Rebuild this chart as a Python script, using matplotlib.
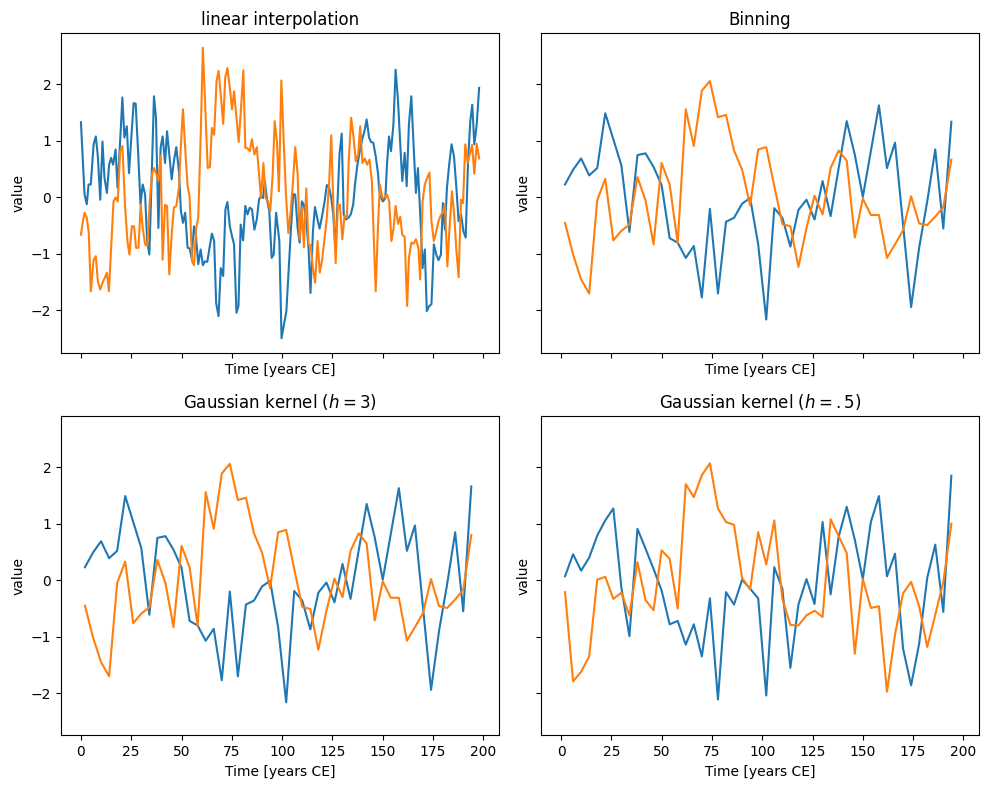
import numpy as np
import matplotlib.pyplot as plt

# linear interpolation: vertices (time, value)
lin_x_a = [0, 1.8, 2.9, 3.8, 4.9, 6.3, 7.4, 8.4, 9.6, 10.7, 11.7, 12.9, 14.0, 15.0, 16.0, 17.2,
           18.2, 19.4, 20.6, 21.6, 22.8, 23.9, 24.9, 26.2, 27.2, 28.4, 29.6, 30.7, 31.9, 32.9,
           34.0, 35.2, 36.3, 37.3, 38.5, 39.6, 40.6, 41.8, 42.8, 43.9, 45.1, 46.2, 47.4, 48.7,
           49.7, 50.7, 51.8, 53.0, 54.0, 55.0, 56.2, 57.1, 58.3, 59.5, 60.6, 61.6, 62.8, 63.9,
           65.1, 66.2, 67.2, 68.4, 69.5, 70.7, 71.8, 72.8, 74.0, 75.1, 76.1, 77.3, 78.3, 79.4,
           80.6, 81.7, 82.8, 83.9, 85.0, 86.2, 87.4, 88.5, 89.5, 90.5, 91.4, 92.5, 93.6, 94.8,
           95.8, 97.0, 98.6, 99.7, 100.9, 102.1, 103.2, 104.4, 105.5, 106.5, 107.7, 108.7,
           109.8, 110.8, 112.0, 113.1, 114.1, 115.3, 116.3, 117.4, 118.6, 119.7, 121.1, 122.2,
           123.4, 124.4, 125.4, 126.5, 127.5, 128.5, 129.6, 130.6, 131.8, 132.9, 134.1, 135.3,
           136.2, 137.4, 138.6, 139.7, 140.9, 142.0, 143.2, 144.2, 145.3, 146.5, 147.7, 148.2,
           149.1, 150.1, 151.3, 152.1, 153.1, 154.1, 155.3, 156.4, 157.6, 158.7, 159.7, 160.9,
           161.9, 163.0, 164.2, 165.3, 166.5, 167.5, 168.6, 169.8, 170.9, 171.9, 173.1, 174.2,
           175.4, 176.6, 177.7, 178.9, 179.9, 180.9, 181.9, 183.1, 184.2, 185.4, 186.6, 187.7,
           188.9, 190.1, 191.2, 192.4, 193.5, 194.5, 195.5, 196.7, 197.9]
lin_a = [1.33, 0.05, -0.12, 0.23, 0.23, 0.94, 1.08, 0.73, -0.04, 0.99, 0.35, 0.08, 0.58, 0.70,
         0.58, 0.85, 0.17, 0.94, 1.77, 1.06, 1.26, 0.43, 0.99, 1.67, 1.66, 0.82, -0.12, 0.23,
         0.05, -0.77, -1.01, 0.41, 1.79, 1.41, -0.54, 0.88, 1.08, 0.61, 1.17, 0.76, 0.32, 0.64,
         0.89, 0.46, -0.24, -0.45, -0.27, -0.89, -0.90, -1.07, -0.51, -0.66, -1.18, -0.92,
         -1.20, -1.13, -1.14, -0.89, -0.64, -0.77, -1.87, -2.10, -1.25, -1.39, -0.21, -0.08,
         -0.51, -0.69, -0.83, -2.04, -1.92, -0.48, -0.76, -0.15, -0.30, -0.18, -0.21, -0.57,
         -0.39, -0.04, 0.03, -0.01, 0.29, -0.04, -0.24, -1.07, -1.01, -0.27, -0.77, -2.49,
         -2.25, -2.01, -1.30, -0.54, 0.06, 0.05, -0.54, -0.80, -0.07, -0.13, -0.42, -0.89,
         -1.69, -0.60, -0.17, -0.36, -0.55, -0.36, -0.07, 0.22, 0.17, -0.01, -0.30, -0.95,
         -0.10, 0.76, 1.13, -0.30, -0.39, -0.36, -0.30, -0.13, 0.23, 0.58, 0.82, 1.02, 1.17,
         1.38, 1.06, 0.98, 0.97, 0.73, 0.41, 0.14, -0.01, -0.07, -0.01, 0.58, 1.08, 0.82, 1.29,
         2.26, 1.70, 0.94, 0.29, 0.79, 0.20, 1.29, 1.79, 0.94, 0.08, 0.52, -0.27, -1.25, -0.92,
         -2.01, -1.92, -1.89, -0.83, -1.01, -1.11, -1.01, -0.10, -0.57, 0.17, 0.61, 0.94, 0.73,
         0.17, -0.42, -0.30, -0.60, -0.71, 0.64, 1.35, 1.64, 0.94, 1.29, 1.94]

lin_x_b = [0, 1.0, 1.8, 2.9, 3.9, 4.9, 6.3, 7.4, 8.4, 9.6, 10.7, 11.9, 12.9, 13.9, 15.0, 16.2,
           17.2, 18.3, 19.5, 20.6, 21.9, 23.1, 24.1, 25.3, 26.4, 27.4, 28.6, 29.7, 30.7, 31.9,
           33.0, 34.2, 35.3, 36.3, 37.5, 38.5, 39.6, 40.6, 41.8, 42.8, 43.9, 45.1, 46.2, 47.4,
           48.7, 49.7, 50.7, 51.8, 53.0, 54.0, 55.2, 56.2, 57.3, 58.3, 59.5, 60.6, 61.8, 63.0,
           64.1, 65.1, 66.2, 67.4, 68.4, 69.5, 70.7, 71.7, 72.8, 74.0, 75.1, 76.1, 77.3, 78.4,
           79.6, 80.7, 81.7, 82.8, 83.9, 85.0, 86.2, 87.4, 88.5, 89.5, 90.7, 91.8, 93.0, 94.1,
           95.3, 96.3, 97.4, 98.4, 99.6, 100.7, 101.9, 103.1, 104.2, 105.4, 106.5, 107.7, 108.7,
           109.8, 110.8, 112.0, 113.1, 114.1, 115.3, 116.4, 117.6, 118.7, 119.9, 121.1, 122.2,
           123.4, 124.4, 125.4, 126.6, 127.7, 128.7, 129.9, 131.0, 132.2, 133.1, 134.3, 135.5,
           136.6, 137.8, 138.8, 139.9, 141.1, 142.2, 143.4, 144.6, 145.5, 146.5, 147.6, 148.6,
           149.8, 150.9, 152.1, 153.2, 154.3, 155.4, 156.4, 157.6, 158.7, 159.7, 160.9, 162.1,
           163.0, 164.2, 165.3, 166.5, 167.7, 168.6, 169.8, 170.9, 172.1, 173.2, 174.2, 175.4,
           176.6, 177.7, 178.9, 179.9, 180.9, 182.1, 183.2, 184.4, 185.5, 186.5, 187.7, 188.9,
           189.9, 191.0, 192.2, 193.4, 194.4, 195.5, 196.7, 197.9]
lin_b = [-0.66, -0.42, -0.27, -0.36, -0.63, -1.66, -1.10, -1.04, -1.48, -1.63, -1.51, -1.42,
         -1.33, -1.66, -0.89, -0.07, 0.00, -0.07, 0.82, 0.91, -0.13, -0.77, -1.01, -0.51, -0.51,
         -0.89, -0.89, -0.13, -0.54, -0.83, -0.86, -0.07, 0.41, 0.52, 0.41, 0.29, 0.73, -1.10,
         -0.13, -0.15, -1.36, -0.66, -0.18, -0.15, 0.17, 0.94, 1.56, 0.88, 0.20, 0.02, -1.13,
         -1.20, -0.54, -0.36, 1.06, 2.65, 1.59, 0.52, 0.54, 1.23, 1.11, 2.06, 2.24, 1.82, 1.30,
         2.12, 2.29, 1.94, 1.56, 1.88, 1.41, 0.98, 1.59, 2.25, 0.88, 0.87, 0.82, 1.03, 0.76,
         0.89, 0.41, -0.01, 0.61, -0.01, -0.07, -0.24, 0.41, 1.35, 0.99, 0.11, 2.07, 1.06, 0.05,
         -0.63, -0.27, 0.29, 0.89, 0.41, -0.74, -0.18, -0.88, 0.16, -0.84, -0.84, -1.25, -1.51,
         -0.77, -1.33, -1.10, -0.72, -0.36, 0.29, 1.10, -0.07, -1.16, -0.13, -0.13, -0.74,
         -0.33, -0.36, 0.64, 1.41, 1.06, 0.64, 0.76, 1.26, 0.61, 0.69, 0.58, 0.67, 0.29, -0.68,
         -1.66, -0.54, 0.23, -0.01, 0.00, 0.05, -0.07, -0.77, -0.54, -0.15, -0.47, -0.34, -0.66,
         -0.70, -1.92, -1.07, -0.80, -0.82, -0.74, -0.89, -1.45, -0.07, 0.23, 0.35, 0.44, -0.42,
         -0.77, -0.60, -0.42, -0.31, -0.27, -0.12, -1.22, -0.54, 0.11, -0.30, -0.89, -1.41,
         -0.04, -0.10, 0.94, 0.61, 0.79, 0.93, 0.42, 0.95, 0.69]

# binned series (bin centres every 4 years)
bin_x = np.arange(2, 195, 4)
bin_a = [0.23, 0.49, 0.69, 0.39, 0.52, 1.49, 1.03, 0.57, -0.61, 0.75, 0.78, 0.54, 0.22, -0.72,
         -0.80, -1.07, -0.86, -1.77, -0.20, -1.70, -0.43, -0.36, -0.11, -0.01, -0.83, -2.16,
         -0.19, -0.36, -0.87, -0.22, -0.04, -0.39, 0.29, -0.33, 0.52, 1.35, 0.76, 0.01, 0.82,
         1.63, 0.52, 0.97, -0.48, -1.94, -0.89, -0.07, 0.85, -0.55, 1.34]
bin_b = [-0.45, -1.01, -1.45, -1.70, -0.05, 0.33, -0.76, -0.59, -0.48, 0.36, -0.05, -0.83, 0.61,
         0.23, -0.81, 1.56, 0.91, 1.89, 2.06, 1.42, 1.46, 0.83, 0.49, -0.14, 0.85, 0.89, 0.20,
         -0.47, -0.51, -1.23, -0.54, 0.03, -0.30, 0.52, 0.83, 0.65, -0.71, -0.02, -0.31, -0.31,
         -1.07, -0.83, -0.58, 0.02, -0.46, -0.49, -0.34, -0.17, 0.67]

# gaussian kernel h=3 (same as binning except the last point)
gk3_a = bin_a[:-1] + [1.66]
gk3_b = bin_b[:-1] + [0.80]

# gaussian kernel h=.5
gk05_a = [0.07, 0.46, 0.17, 0.40, 0.79, 1.06, 1.27, -0.13, -0.99, 0.91, 0.56, 0.20, -0.18, -0.78,
          -0.72, -1.14, -0.78, -1.35, -0.32, -2.11, -0.21, -0.43, 0.01, -0.15, -0.32, -2.04,
          0.23, -0.15, -1.55, -0.43, 0.02, -0.42, 1.03, -0.25, 0.77, 1.30, 0.72, 0.02, 1.03,
          1.49, 0.07, 0.47, -1.21, -1.86, -1.12, 0.04, 0.63, -0.56, 1.85]
gk05_b = [-0.21, -1.79, -1.62, -1.35, 0.01, 0.06, -0.33, -0.22, -0.62, 0.32, -0.35, -0.53, 0.53,
          0.38, -0.50, 1.70, 1.47, 1.86, 2.07, 1.27, 1.03, 0.98, 0.04, -0.16, 0.85, 0.28, 1.06,
          -0.33, -0.79, -0.80, -0.62, -0.54, -0.65, 1.08, 0.78, 0.48, -1.30, 0.02, -0.49, -0.46,
          -1.97, -0.96, -0.23, -0.03, -0.46, -1.18, -0.61, -0.03, 1.00]

titles = ['linear interpolation', 'Binning', 'Gaussian kernel ($h=3$)', 'Gaussian kernel ($h=.5$)']

fig, axes = plt.subplots(2, 2, figsize=(9.89, 7.9), dpi=100, sharex=True, sharey=True)
axes = axes.ravel()

axes[0].plot(lin_x_a, lin_a)
axes[0].plot(lin_x_b, lin_b)
axes[1].plot(bin_x, bin_a)
axes[1].plot(bin_x, bin_b)
axes[2].plot(bin_x, gk3_a)
axes[2].plot(bin_x, gk3_b)
axes[3].plot(bin_x, gk05_a)
axes[3].plot(bin_x, gk05_b)

for ax, title in zip(axes, titles):
    ax.set_title(title)
    ax.set_xlabel('Time [years CE]')
    ax.set_ylabel('value')

fig.subplots_adjust(left=0.0617, right=0.990, top=0.958, bottom=0.069,
                    wspace=0.096, hspace=0.198)
plt.savefig('out.png')
